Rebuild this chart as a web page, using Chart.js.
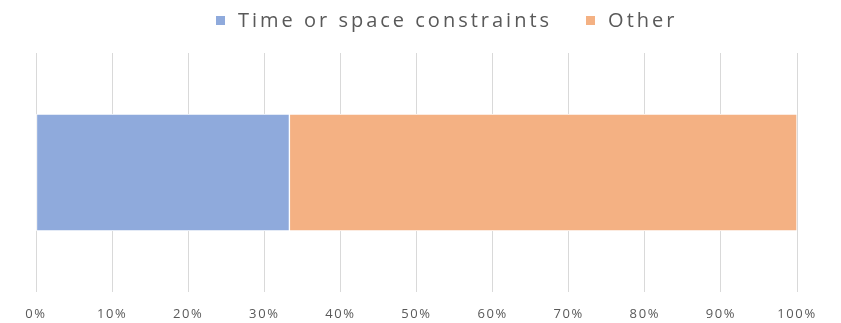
<!DOCTYPE html>
<html>
<head>
<meta charset="utf-8">
<script src="https://cdn.jsdelivr.net/npm/chart.js@4.4.1/dist/chart.umd.min.js"></script>
<style>
  html, body { margin: 0; padding: 0; background: #fff; }
  #wrap { position: relative; width: 841px; height: 323px; }
  #legend {
    position: absolute; top: 10px; left: 216px;
    display: flex; align-items: center; white-space: nowrap;
    font-family: "Open Sans", sans-serif; font-size: 20px; line-height: 20px;
    letter-spacing: 3px; color: #595959;
  }
  #legend .item { display: flex; align-items: center; margin-right: 34px; }
  #legend .box { width: 9px; height: 9px; margin-right: 13px; }
</style>
</head>
<body>
<div id="wrap">
  <canvas id="chart" width="841" height="323"></canvas>
  <div id="legend"></div>
</div>
<script>
// Share of responses by reason (percent of total)
const categories = [''];
const seriesNames = ['Time or space constraints', 'Other'];
const timeSpaceValues = [33.3];
const otherValues = [66.7];
const tickValues = [0, 10, 20, 30, 40, 50, 60, 70, 80, 90, 100];
const tickLabels = ['0%', '10%', '20%', '30%', '40%', '50%', '60%', '70%', '80%', '90%', '100%'];

const seriesColors = ['#8FAADC', '#F4B183'];
const textColor = '#595959';

// Tick labels are drawn with slightly widened letter spacing
const spacingPlugin = {
  id: 'tickSpacing',
  beforeDraw(chart) { chart.ctx.letterSpacing = '1.6px'; },
  afterDraw(chart) { chart.ctx.letterSpacing = '0px'; }
};

const chart = new Chart(document.getElementById('chart'), {
  type: 'bar',
  data: {
    labels: categories,
    datasets: [
      {
        label: seriesNames[0],
        data: timeSpaceValues,
        backgroundColor: seriesColors[0],
        borderColor: '#ffffff',
        borderWidth: 1,
        borderSkipped: false,
        barThickness: 117
      },
      {
        label: seriesNames[1],
        data: otherValues,
        backgroundColor: seriesColors[1],
        borderColor: '#ffffff',
        borderWidth: 1,
        borderSkipped: false,
        barThickness: 117
      }
    ]
  },
  options: {
    indexAxis: 'y',
    responsive: false,
    animation: false,
    devicePixelRatio: 1,
    layout: { padding: { top: 53, left: 36, right: 44, bottom: 1 } },
    plugins: {
      legend: { display: false },
      tooltip: { enabled: false }
    },
    scales: {
      x: {
        stacked: true,
        min: 0,
        max: 100,
        afterBuildTicks(scale) {
          scale.ticks = tickValues.map(v => ({ value: v }));
        },
        afterFit(scale) { scale.height = 30; },
        border: { display: false },
        grid: { color: '#d9d9d9', lineWidth: 1, drawTicks: false },
        ticks: {
          padding: 14,
          maxRotation: 0,
          autoSkip: false,
          color: textColor,
          font: { family: '"Open Sans", sans-serif', size: 13 },
          callback: (v) => tickLabels[tickValues.indexOf(v)]
        }
      },
      y: {
        stacked: true,
        display: false
      }
    }
  },
  plugins: [spacingPlugin]
});

// Legend built from the chart's datasets
const legendEl = document.getElementById('legend');
chart.data.datasets.forEach((ds) => {
  const item = document.createElement('div');
  item.className = 'item';
  const box = document.createElement('span');
  box.className = 'box';
  box.style.background = ds.backgroundColor;
  const text = document.createElement('span');
  text.textContent = ds.label;
  item.appendChild(box);
  item.appendChild(text);
  legendEl.appendChild(item);
});
</script>
</body>
</html>
